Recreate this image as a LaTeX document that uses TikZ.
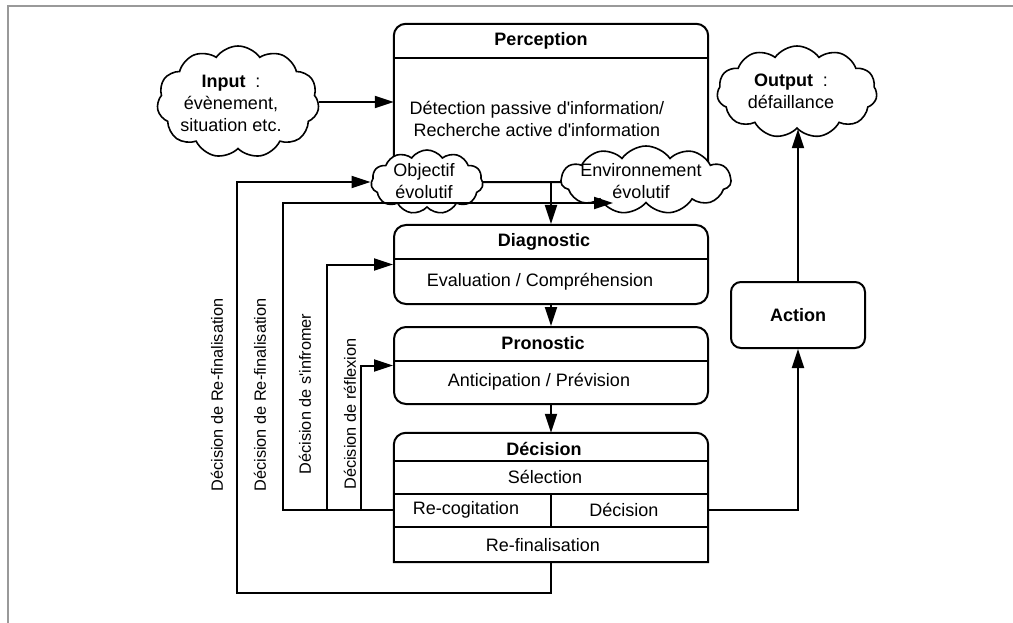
\documentclass[tikz,border=0pt]{standalone}
\usepackage{fontspec}
\setmainfont{Liberation Sans}[Ligatures=TeXOff]
\usetikzlibrary{shapes.symbols,arrows.meta}
\tikzset{
  ln/.style={line width=2pt},
  fl/.style={line width=2pt,-{Triangle[length=19pt,width=12pt]}},
  box/.style={minimum width=314pt,inner sep=0pt},
  ttl/.style={font=\fontsize{18}{22}\selectfont\bfseries},
  nuage/.style={cloud,draw,fill=white,line width=1.6pt,cloud puffs=11,cloud puff arc=110,
    cloud ignores aspect,inner sep=0pt},
  vlab/.style={rotate=90,font=\fontsize{16.3}{18}\selectfont},
}
\newcommand{\haut}[1]{[rounded corners=12pt] -- (#1.north west) -- (#1.north east) [sharp corners] -- (#1.south east) -- cycle}

\begin{document}
\begin{tikzpicture}[x=1pt,y=-1pt,font=\fontsize{18}{22}\selectfont]
  \useasboundingbox (0,0) rectangle (1013,623);
  \draw[black!40,line width=2pt] (8,623) -- (8,6) -- (1013,6);

  % perception
  \node[box,minimum height=158pt] (perc) at (551,103) {};
  \draw[ln] (perc.south west) \haut{perc};
  \draw[ln] (perc.west |- 0,58) -- (perc.east |- 0,58);
  \node[ttl] (percT) at (541,41) {Perception};
  \node[align=center] (percB) at (537,119) {Détection passive d'information/\\Recherche active d'information};

  % diagnostic et pronostic
  \node[box,draw,ln,rounded corners=12pt,minimum height=79pt] (diag) at (551,264.5) {};
  \draw[ln] (diag.west |- 0,259) -- (diag.east |- 0,259);
  \node[ttl] (diagT) at (544,242) {Diagnostic};
  \node (diagB) at (540,282) {Evaluation / Compréhension};
  \node[box,draw,ln,rounded corners=12pt,minimum height=77pt] (pron) at (551,365.5) {};
  \draw[ln] (pron.west |- 0,361) -- (pron.east |- 0,361);
  \node[ttl] (pronT) at (543,343) {Pronostic};
  \node (pronB) at (539,382) {Anticipation / Prévision};

  % decision
  \node[box,minimum height=129pt] (dec) at (551,497.5) {};
  \draw[ln] (dec.south west) \haut{dec};
  \foreach \y in {461,494,527}
    \draw[ln] (dec.west |- 0,\y) -- (dec.east |- 0,\y);
  \draw[ln] (dec.north |- 0,494) -- (dec.north |- 0,527);
  \node[ttl] (decT) at (544,449) {Décision};
  \node (sel) at (545,477) {Sélection};
  \node (recog) at (466,510) {Re-cogitation};
  \node (decis) at (624,510) {Décision};
  \node (refin) at (543,545) {Re-finalisation};

  % action
  \node[draw,ln,rounded corners=10pt,minimum width=134pt,minimum height=66pt,ttl] (act) at (798,315) {Action};

  % nuages
  \node[nuage,minimum width=162pt,minimum height=112pt] (input) at (238,102) {};
  \node[align=center] (inputT) at (231,103) {\textbf{Input}\ \ :\\évènement,\\situation etc.};
  \node[nuage,minimum width=160pt,minimum height=92pt] (out) at (797,92) {};
  \node[align=center] (outT) at (791,91) {\textbf{Output}\ \ :\\défaillance};
  \node[nuage,minimum width=112pt,minimum height=64pt] (obj) at (427,182) {};
  \node[align=center] (objT) at (424,181) {Objectif\\évolutif};
  \node[nuage,minimum width=170pt,minimum height=68pt] (env) at (646,180) {};
  \node[align=center] (envT) at (641,181) {Environnement\\évolutif};

  % fleches
  \draw[fl] (input.east) -- (input.east -| perc.west);
  \draw[fl] (perc.south) -- (diag.north);
  \draw[fl] (diag.south) -- (pron.north);
  \draw[fl] (pron.south) -- (dec.north);
  \coordinate (dr) at (dec.east |- 0,510);
  \draw[fl] (dr) -| (act.south);
  \draw[fl] (act.north) -- (act.north |- out.south);

  % boucles
  \coordinate (b1) at (237,593);
  \coordinate (rc) at (dec.west |- 0,510);
  \coordinate (b2) at (283,203);
  \coordinate (envin) at (613,203);
  \coordinate (b3) at (327,510);
  \coordinate (b4) at (361,510);
  \draw[fl] (dec.south) |- (b1) |- (obj.west);
  \draw[fl] (rc) -| (b2) -- (envin);
  \draw[fl] (b3) |- (diag.west);
  \draw[fl] (b4) |- (pron.west);

  \foreach \x/\y/\t in {217/395/{Décision de Re-finalisation},260/395/{Décision de Re-finalisation},
    305/394/{Décision de s'infromer},350/414/{Décision de réflexion}}
    \node[vlab] (lab\x) at (\x,\y) {\t};
\end{tikzpicture}
\end{document}
